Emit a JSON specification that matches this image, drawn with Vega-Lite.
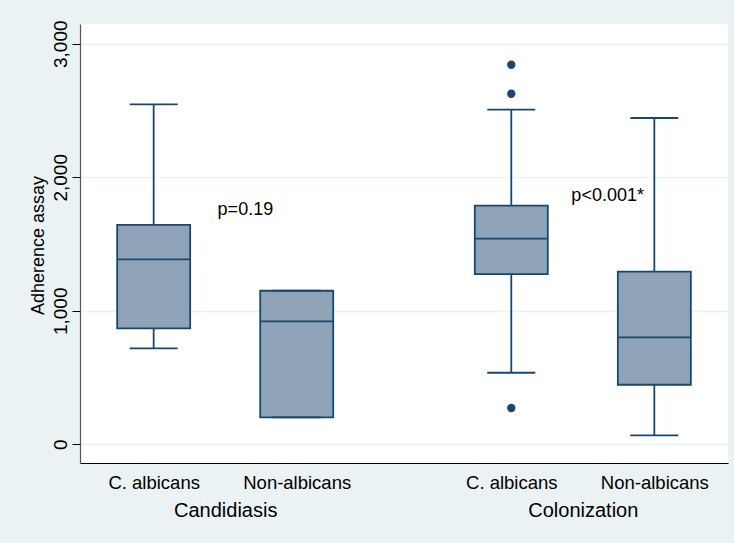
{
  "$schema": "https://vega.github.io/schema/vega-lite/v6.json",
  "width": 648,
  "height": 439,
  "autosize": {"type": "none"},
  "padding": {"left": 80, "top": 24, "right": 6, "bottom": 80},
  "background": "#EAF2F3",
  "config": {"view": {"fill": "white", "stroke": null}, "font": "Liberation Sans"},
  "datasets": {
    "boxes": [
      {"infection": "Candidiasis", "species": "C. albicans", "pos": 1, "lower": 719, "q1": 869, "median": 1385, "q3": 1644, "upper": 2546},
      {"infection": "Candidiasis", "species": "Non-albicans", "pos": 2, "lower": 202, "q1": 202, "median": 921, "q3": 1150, "upper": 1150},
      {"infection": "Colonization", "species": "C. albicans", "pos": 3.5, "lower": 536, "q1": 1275, "median": 1540, "q3": 1787, "upper": 2506},
      {"infection": "Colonization", "species": "Non-albicans", "pos": 4.5, "lower": 67, "q1": 446, "median": 801, "q3": 1293, "upper": 2444}
    ],
    "outliers": [
      {"pos": 3.5, "value": 2843},
      {"pos": 3.5, "value": 2626},
      {"pos": 3.5, "value": 272}
    ],
    "notes": [
      {"pos": 1.447, "value": 1755, "label": "p=0.19"},
      {"pos": 3.92, "value": 1862, "label": "p<0.001*"}
    ]
  },
  "layer": [
    {
      "layer": [
        {
          "data": {"name": "boxes"},
          "mark": {"type": "rule", "color": "#1A476F", "strokeWidth": 1.8},
          "encoding": {
            "x": {
              "field": "pos", "type": "quantitative",
              "scale": {"domain": [0.52, 4.98], "nice": false, "zero": false},
              "axis": {
                "values": [1, 2, 3.5, 4.5],
                "labelExpr": "(datum.value == 1 || datum.value == 3.5) ? 'C. albicans' : 'Non-albicans'",
                "title": null, "grid": false, "ticks": false, "tickSize": 0,
                "domainColor": "#000000", "domainWidth": 1.2,
                "labelFontSize": 18.5, "labelColor": "#000000", "labelPadding": 10,
                "labelBaseline": "top", "labelOverlap": false, "labelFlush": false, "labelBound": false
              }
            },
            "y": {
              "field": "lower", "type": "quantitative",
              "scale": {"domain": [-140, 3148], "nice": false, "zero": false},
              "axis": {
                "values": [0, 1000, 2000, 3000],
                "labelExpr": "format(datum.value, ',d')",
                "title": "Adherence assay", "titleFontSize": 18, "titleFontWeight": "normal", "titleColor": "#000000",
                "titleAngle": -90, "titleAlign": "center", "titleBaseline": "alphabetic", "titleX": -37, "titleY": 221,
                "labelAngle": -90, "labelAlign": "center", "labelBaseline": "alphabetic",
                "labelFontSize": 19, "labelColor": "#000000", "labelPadding": 6,
                "tickSize": 8, "tickColor": "#000000", "tickWidth": 1,
                "domainColor": "#555555", "domainWidth": 1.2,
                "grid": true, "gridColor": "#EAF2F3", "gridWidth": 1.5,
                "labelOverlap": false, "labelFlush": false, "labelBound": false
              }
            },
            "y2": {"field": "upper"}
          }
        },
        {
          "data": {"name": "boxes"},
          "mark": {"type": "bar", "width": 73, "fill": "#8EA3B7", "stroke": "#1A476F", "strokeWidth": 1.8},
          "encoding": {
            "x": {"field": "pos", "type": "quantitative"},
            "y": {"field": "q1", "type": "quantitative"},
            "y2": {"field": "q3"}
          }
        },
        {
          "data": {"name": "boxes"},
          "mark": {"type": "tick", "orient": "horizontal", "size": 73, "thickness": 1.8, "color": "#1A476F", "opacity": 1},
          "encoding": {
            "x": {"field": "pos", "type": "quantitative"},
            "y": {"field": "median", "type": "quantitative"}
          }
        },
        {
          "data": {"name": "boxes"},
          "mark": {"type": "tick", "orient": "horizontal", "size": 48, "thickness": 1.8, "color": "#1A476F", "opacity": 1},
          "encoding": {
            "x": {"field": "pos", "type": "quantitative"},
            "y": {"field": "lower", "type": "quantitative"}
          }
        },
        {
          "data": {"name": "boxes"},
          "mark": {"type": "tick", "orient": "horizontal", "size": 48, "thickness": 1.8, "color": "#1A476F", "opacity": 1},
          "encoding": {
            "x": {"field": "pos", "type": "quantitative"},
            "y": {"field": "upper", "type": "quantitative"}
          }
        },
        {
          "data": {"name": "outliers"},
          "mark": {"type": "point", "filled": true, "size": 70, "color": "#1A476F", "opacity": 1},
          "encoding": {
            "x": {"field": "pos", "type": "quantitative"},
            "y": {"field": "value", "type": "quantitative"}
          }
        }
      ]
    },
    {
      "data": {"name": "notes"},
      "mark": {"type": "text", "align": "left", "baseline": "middle", "fontSize": 18, "color": "#000000"},
      "encoding": {
        "x": {
          "field": "pos", "type": "quantitative",
          "scale": {"domain": [0.52, 4.98], "nice": false, "zero": false},
          "axis": {
            "orient": "bottom", "values": [1.5, 4],
            "labelExpr": "datum.value < 2 ? 'Candidiasis' : 'Colonization'",
            "title": null, "grid": false, "ticks": false, "tickSize": 0, "domain": false,
            "labelFontSize": 20, "labelColor": "#000000", "labelPadding": 37,
            "labelBaseline": "top", "labelOverlap": false, "labelFlush": false, "labelBound": false
          }
        },
        "y": {"field": "value", "type": "quantitative"},
        "text": {"field": "label"}
      }
    }
  ],
  "resolve": {"axis": {"x": "independent"}}
}
